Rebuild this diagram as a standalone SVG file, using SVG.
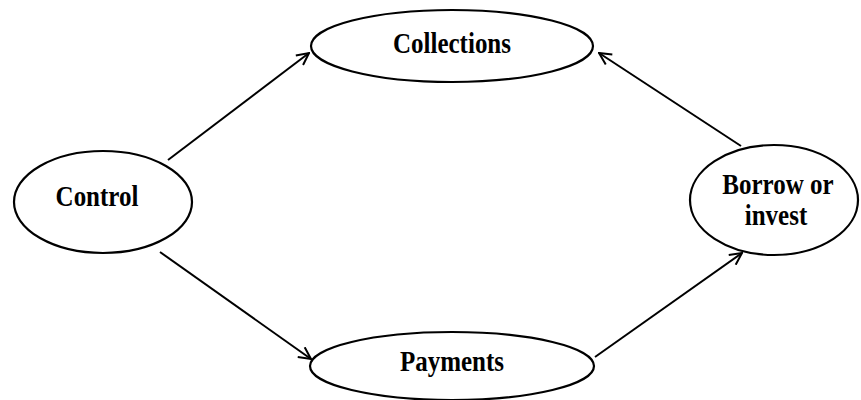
<svg xmlns="http://www.w3.org/2000/svg" width="861" height="400" viewBox="0 0 861 400">
<style>
.n{fill:#fff;stroke:#000;stroke-width:2.2}
.t{font-family:"Liberation Serif","Times New Roman",serif;font-weight:bold;font-size:25px;fill:#000;text-anchor:middle}
.c{fill:none;stroke:#000;stroke-width:2;marker-end:url(#a)}
</style>
<defs>
<marker id="a" viewBox="0 0 14 14" refX="13" refY="7" markerWidth="14" markerHeight="14" markerUnits="userSpaceOnUse" orient="auto">
<path d="M1,1 L13,7 L1,13" fill="none" stroke="#000" stroke-width="2"/>
</marker>
</defs>
<g id="connectors">
<path class="c" d="M168,160 L309,53"/>
<path class="c" d="M741,146 L599,53"/>
<path class="c" d="M160,252 L311,359"/>
<path class="c" d="M595,357 L742,253"/>
</g>
<g id="collections">
<ellipse class="n" cx="452" cy="46" rx="141" ry="36"/>
<text class="t" transform="translate(452,53) scale(1,1.18)">Collections</text>
</g>
<g id="control">
<ellipse class="n" cx="103" cy="202" rx="89" ry="51"/>
<text class="t" transform="translate(97,206) scale(1,1.18)">Control</text>
</g>
<g id="borrow">
<ellipse class="n" cx="774" cy="200" rx="84" ry="55"/>
<text class="t" transform="translate(778,194) scale(1,1.18)">Borrow or</text>
<text class="t" transform="translate(776,225) scale(1,1.18)">invest</text>
</g>
<g id="payments">
<ellipse class="n" cx="452" cy="366" rx="142" ry="34"/>
<text class="t" transform="translate(452,371) scale(1,1.18)">Payments</text>
</g>
</svg>
